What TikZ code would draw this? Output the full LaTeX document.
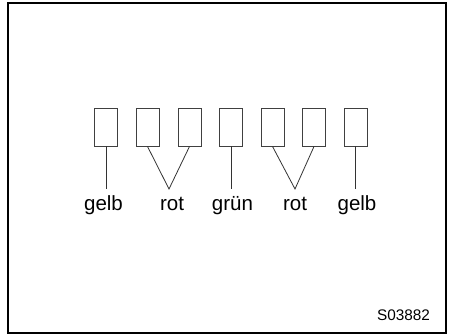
\documentclass[tikz,border=0pt]{standalone}
\usepackage{fontspec}
\setmainfont{Liberation Sans}
\begin{document}
\begin{tikzpicture}[x=1bp,y=-1bp,
    stecker/.style={draw=black!75,line width=0.9bp,minimum width=23bp,minimum height=38bp,inner sep=0pt},
    farbe/.style={anchor=base,inner sep=0pt,font=\fontsize{20.6}{24}\selectfont},
    ader/.style={draw=black!80,line width=0.8bp}]
    % Rahmen
    \useasboundingbox (0,0) rectangle (449,335);
    \draw[line width=2bp] (8,3) rectangle (446,333);

    % Kontakte des Steckers
    \node[stecker] (k1) at (106,127) {};
    \node[stecker] (k2) at (147.5,127) {};
    \node[stecker] (k3) at (189.5,127) {};
    \node[stecker] (k4) at (231,127) {};
    \node[stecker] (k5) at (272.5,127) {};
    \node[stecker] (k6) at (314,127) {};
    \node[stecker] (k7) at (355.5,127) {};

    % Enden der Adern
    \coordinate (e1) at (106,189);
    \coordinate (e2) at (169,189);
    \coordinate (e4) at (231,189);
    \coordinate (e5) at (295,189);
    \coordinate (e7) at (355.5,189);

    % Adern
    \draw[ader] (k1.south) -- (e1);
    \draw[ader] (k2.south) -- (e2) -- (k3.south);
    \draw[ader] (k4.south) -- (e4);
    \draw[ader] (k5.south) -- (e5) -- (k6.south);
    \draw[ader] (k7.south) -- (e7);

    % Farben der Adern
    \node[farbe] (gelb1) at (103.5,210) {gelb};
    \node[farbe] (rot1) at (172,210) {rot};
    \node[farbe] (gruen) at (232.5,210) {grün};
    \node[farbe] (rot2) at (295,210) {rot};
    \node[farbe] (gelb2) at (357,210) {gelb};

    % Bildnummer
    \node[anchor=base,inner sep=0pt,font=\fontsize{15.4}{18}\selectfont] (nr) at (403.5,320) {S03882};
\end{tikzpicture}
\end{document}
